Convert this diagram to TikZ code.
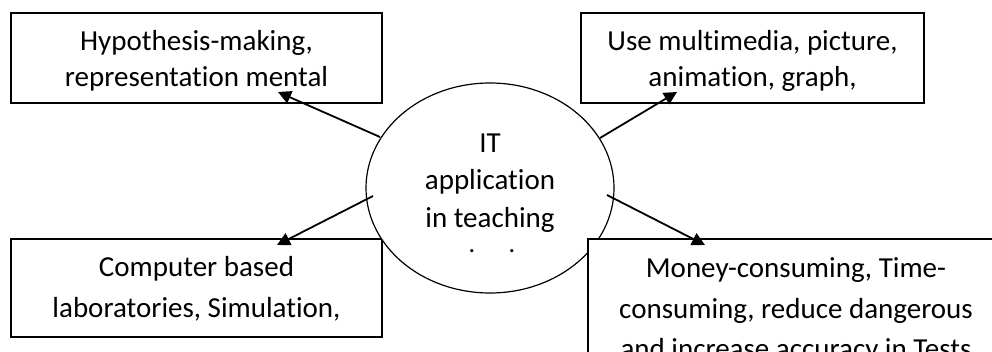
\documentclass[tikz,border=0pt]{standalone}
\usepackage{fontspec}
\setmainfont{Carlito}[RawFeature={-liga}]
\usetikzlibrary{arrows.meta,shapes.geometric}
\begin{document}
\begin{tikzpicture}[x=1pt,y=-1pt,
  box/.style={draw, line width=1.2pt, fill=white, inner sep=0pt},
  txt/.style={anchor=base, inner sep=0pt, font=\fontsize{29}{35}\selectfont},
  dotmark/.style={anchor=center, inner sep=0pt, font=\fontsize{26}{28}\selectfont},
  arr/.style={line width=1.8pt, -{Triangle[length=13pt,width=13pt]}}]
\clip (0,0) rectangle (992,352);
\fill[white] (0,0) rectangle (992,352);
% boxes
\node[box, minimum width=371pt, minimum height=90pt] (b1) at (196.5,58) {};
\node[box, minimum width=343pt, minimum height=90pt] (b2) at (752.5,58) {};
\node[box, minimum width=371pt, minimum height=98pt] (b3) at (196.5,288) {};
\node[draw, ellipse, line width=1.2pt, fill=white, inner sep=0pt,
      minimum width=248pt, minimum height=210pt] (e) at (490,188) {};
\node[box, minimum width=416pt, minimum height=182pt] (b4) at (796,330) {};
% texts
\begin{scope}
\clip (11,13) rectangle (382,91);
\node[txt] (t1a) at (196.5,51) {Hypothesis-making,};
\node[txt] (t1b) at (196.5,87) {representation mental};
\end{scope}
\begin{scope}
\clip (581,13) rectangle (924,92);
\node[txt] (t2a) at (752.5,51) {Use multimedia, picture,};
\node[txt] (t2b) at (752.5,87) {animation, graph,};
\end{scope}
\node[txt] (t3a) at (196.5,277) {Computer based};
\node[txt] (t3b) at (196.5,317) {laboratories, Simulation,};
\node[txt] (t4a) at (796,278) {Money-consuming, Time-};
\node[txt] (t4b) at (796,318) {consuming, reduce dangerous};
\node[txt] (t4c) at (796,358) {and increase accuracy in Tests};
\node[txt] (te1) at (490,153) {IT};
\node[txt] (te2) at (490,190) {application};
\node[txt] (te3) at (490,228) {in teaching};
\node[dotmark] (d1) at (472,251) {.};
\node[dotmark] (d2) at (512,251) {.};
% arrows
\coordinate (a1s) at (380,137); \coordinate (a1e) at (278,92);
\coordinate (a2s) at (600,138); \coordinate (a2e) at (677,92);
\coordinate (a3s) at (373,196); \coordinate (a3e) at (277,245);
\coordinate (a4s) at (607,195); \coordinate (a4e) at (705,245);
\draw[arr] (a1s) -- (a1e);
\draw[arr] (a2s) -- (a2e);
\draw[arr] (a3s) -- (a3e);
\draw[arr] (a4s) -- (a4e);
\end{tikzpicture}
\end{document}
